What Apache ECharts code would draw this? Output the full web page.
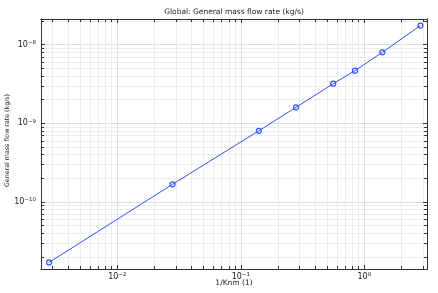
<!DOCTYPE html>
<html>
<head>
<meta charset="utf-8">
<script src="https://cdn.jsdelivr.net/npm/echarts@6/dist/echarts.min.js"></script>
<style>html,body{margin:0;padding:0;background:#fff}#c{width:438px;height:293px}</style>
</head>
<body>
<div id="c"></div>
<script>
// Data
const invKnm = [0.0028, 0.028, 0.14, 0.28, 0.56, 0.84, 1.4, 2.85];
const massFlow = [1.71e-11, 1.68e-10, 8.05e-10, 1.60e-9, 3.19e-9, 4.67e-9, 8.0e-9, 1.75e-8];
const xMajorTicks = [0.01, 0.1, 1];
const yMajorTicks = [1e-10, 1e-9, 1e-8];
const xMin = 0.00241, xMax = 3.22;
const yMin = 1.41e-11, yMax = 2.12e-8;

function minorTicks(min, max) {
  const out = [];
  for (let e = Math.floor(Math.log10(min)); e <= Math.ceil(Math.log10(max)); e++) {
    for (let k = 2; k <= 9; k++) {
      const v = k * Math.pow(10, e);
      if (v >= min && v <= max) out.push(v);
    }
  }
  return out;
}
const xMinor = minorTicks(xMin, xMax);
const yMinor = minorTicks(yMin, yMax);

const FONT = 'DejaVu Sans';
const AX = '#333';
function powFmt(v) {
  const e = Math.round(Math.log10(v));
  return '10{s|' + (e < 0 ? '\u2212' + (-e) : e) + '}';
}
const rich = {
  s: { fontSize: 5.5, fontFamily: FONT, color: '#222', verticalAlign: 'top', padding: [0, 0, 4, 0] }
};
function axisBase(pos, min, max) {
  return {
    type: 'log', logBase: 10, min: min, max: max, position: pos,
    axisLine: { show: true, onZero: false, lineStyle: { color: AX, width: 1 } },
    axisLabel: { show: false },
    splitLine: { show: false },
    axisTick: { show: false }
  };
}
function majorAxis(pos, min, max, ticks, labels) {
  const a = axisBase(pos, min, max);
  a.axisTick = { show: true, inside: true, length: 4, customValues: ticks, lineStyle: { color: AX } };
  a.splitLine = { show: true, lineStyle: { color: '#dedede', width: 1 } };
  if (labels) {
    a.axisLabel = { show: true, customValues: ticks, formatter: powFmt, rich: rich,
      fontSize: 8, fontFamily: FONT, color: '#222', margin: 3 };
  }
  return a;
}
function minorAxis(pos, min, max, ticks, grid) {
  const a = axisBase(pos, min, max);
  a.axisTick = { show: true, inside: true, length: 3, customValues: ticks, lineStyle: { color: AX } };
  a.splitLine = { show: grid, lineStyle: { color: '#ececec', width: 1 } };
  return a;
}

const xA0 = majorAxis('bottom', xMin, xMax, xMajorTicks, true);
xA0.name = '1/Knm (1)';
xA0.nameLocation = 'middle';
xA0.nameGap = 10;
xA0.nameMoveOverlap = false;
xA0.nameTextStyle = { fontSize: 7.5, fontFamily: FONT, color: '#222' };
const yA0 = majorAxis('left', yMin, yMax, yMajorTicks, true);
yA0.axisLabel.margin = 5;
yA0.name = 'General mass flow rate (kg/s)';
yA0.nameLocation = 'middle';
yA0.nameGap = 31;
yA0.nameMoveOverlap = false;
yA0.nameTextStyle = { fontSize: 6.3, fontFamily: FONT, color: '#222', padding: [0, 0, 0, 7] };

const chart = echarts.init(document.getElementById('c'), null, { renderer: 'canvas' });
chart.setOption({
  animation: false,
  backgroundColor: '#fff',
  title: {
    text: 'Global: General mass flow rate (kg/s)',
    left: 234, top: 8, textAlign: 'center', padding: 0,
    textStyle: { fontSize: 7.5, fontWeight: 'normal', fontFamily: FONT, color: '#222' }
  },
  grid: { left: 41, right: 11, top: 19, bottom: 24, containLabel: false, outerBoundsMode: 'none' },
  xAxis: [
    xA0,
    minorAxis('bottom', xMin, xMax, xMinor, true),
    majorAxis('top', xMin, xMax, xMajorTicks, false),
    minorAxis('top', xMin, xMax, xMinor, false)
  ],
  yAxis: [
    yA0,
    minorAxis('left', yMin, yMax, yMinor, true),
    majorAxis('right', yMin, yMax, yMajorTicks, false),
    minorAxis('right', yMin, yMax, yMinor, false)
  ],
  series: [{
    type: 'line',
    xAxisIndex: 0, yAxisIndex: 0,
    data: invKnm.map((x, i) => [x, massFlow[i]]),
    symbol: 'circle', symbolSize: 5,
    showAllSymbol: true,
    lineStyle: { color: '#3355ff', width: 1 },
    itemStyle: { color: 'rgba(255,255,255,0)', borderColor: '#3355ff', borderWidth: 1.2 },
    emphasis: { disabled: true }
  }]
});
</script>
</body>
</html>
